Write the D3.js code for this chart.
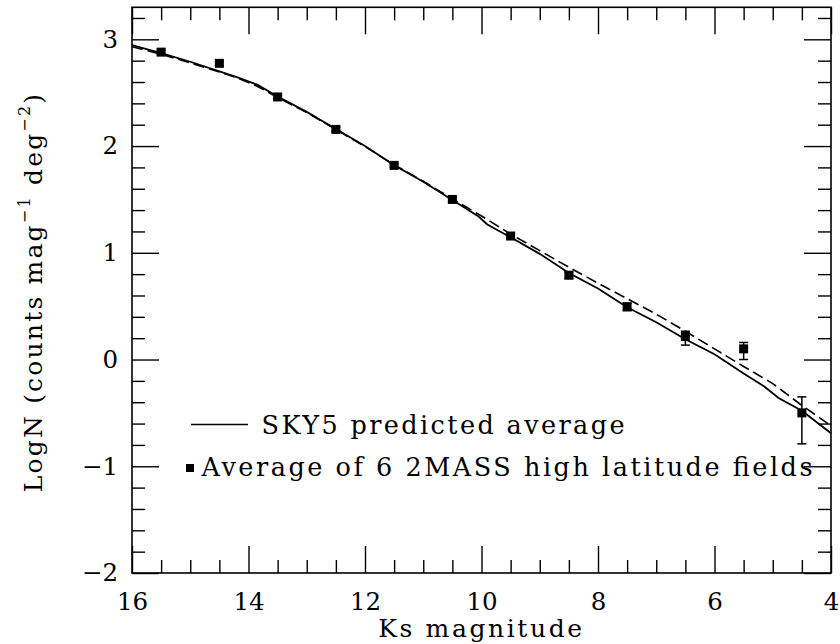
<!DOCTYPE html>
<html>
<head>
<meta charset="utf-8">
<script src="https://cdn.jsdelivr.net/npm/d3@7"></script>
<style>
  html, body { margin: 0; padding: 0; background: #fff; }
  svg { display: block; }
  text { font-family: "DejaVu Serif", "Liberation Serif", serif; fill: #000; }
</style>
</head>
<body>
<svg id="chart" width="840" height="644"></svg>
<script>
// Observed counts: averages of six 2MASS high-latitude fields
const magnitudes = [15.5, 14.5, 13.5, 12.5, 11.5, 10.5, 9.5, 8.5, 7.5, 6.5, 5.5, 4.5];
const logCounts  = [2.88, 2.775, 2.46, 2.156, 1.819, 1.50, 1.157, 0.79, 0.494, 0.215, 0.10, -0.50];
const errUp      = [0.02, 0.02, 0.02, 0.02, 0.015, 0.02, 0.025, 0.03, 0.035, 0.05, 0.06, 0.15];
const errDown    = [0.02, 0.02, 0.02, 0.02, 0.015, 0.02, 0.025, 0.03, 0.035, 0.08, 0.10, 0.29];

// SKY5 predicted average (solid)
const skyMag  = [16, 15.5, 15, 14.5, 14.2, 13.85, 13.5, 13, 12.5, 12, 11.5, 11, 10.5, 10.05, 9.9, 9.5, 9, 8.5, 8, 7.5, 7, 6.5, 6, 5.5, 5.15, 4.9, 4.5, 4];
const skyLogN = [2.945, 2.87, 2.79, 2.70, 2.645, 2.575, 2.465, 2.32, 2.16, 2.0, 1.82, 1.665, 1.495, 1.34, 1.265, 1.145, 0.99, 0.81, 0.665, 0.49, 0.35, 0.19, 0.05, -0.13, -0.25, -0.36, -0.48, -0.69];

// Comparison model (dashed)
const altMag  = [16, 15.5, 15, 14.5, 14.2, 13.85, 13.5, 13, 12.5, 12, 11.5, 11, 10.5, 10, 9.5, 9, 8.5, 8, 7.5, 7, 6.5, 6, 5.5, 5, 4.5, 4];
const altLogN = [2.93, 2.86, 2.78, 2.695, 2.64, 2.56, 2.455, 2.315, 2.155, 1.995, 1.825, 1.67, 1.505, 1.345, 1.175, 1.02, 0.865, 0.715, 0.57, 0.425, 0.265, 0.10, -0.065, -0.225, -0.43, -0.62];

// Axis ticks
const xMajor = [16, 14, 12, 10, 8, 6, 4];
const yMajor = [-2, -1, 0, 1, 2, 3];

const legendLabels = ["SKY5 predicted average", "Average of 6 2MASS high latitude fields"];

const svg = d3.select("#chart");
const plotLeft = 132, plotRight = 831, plotTop = 7.3, plotBottom = 573;

const x = d3.scaleLinear().domain([16, 4]).range([plotLeft, plotRight]);
const y = d3.scaleLinear().domain([-2, 3.3]).range([plotBottom, plotTop]);

const xMinor = d3.range(16, 3.99, -0.5).filter(v => !xMajor.includes(v));
const yMinor = d3.range(-2, 3.31, 0.2).map(v => +v.toFixed(1)).filter(v => !yMajor.includes(v));

const fmt = v => (v < 0 ? "\u2212" : "") + Math.abs(v);
const majorLen = 27, minorLen = 13;

function styleAxis(g) {
  g.select(".domain").remove();
  g.selectAll("line").attr("stroke", "#000").attr("stroke-width", 1.4);
  g.selectAll("text").attr("font-size", 24.5).attr("font-family", "DejaVu Serif, serif").attr("fill", "#000");
}

// Bottom axis
svg.append("g").attr("transform", `translate(0,${plotBottom})`)
  .call(d3.axisBottom(x).tickValues(xMajor).tickFormat(fmt).tickSize(-majorLen).tickPadding(20))
  .call(styleAxis);
svg.append("g").attr("transform", `translate(0,${plotBottom})`)
  .call(d3.axisBottom(x).tickValues(xMinor).tickFormat("").tickSize(-minorLen))
  .call(styleAxis);
// Top axis
svg.append("g").attr("transform", `translate(0,${plotTop})`)
  .call(d3.axisTop(x).tickValues(xMajor).tickFormat("").tickSize(-majorLen))
  .call(styleAxis);
svg.append("g").attr("transform", `translate(0,${plotTop})`)
  .call(d3.axisTop(x).tickValues(xMinor).tickFormat("").tickSize(-minorLen))
  .call(styleAxis);
// Left axis
svg.append("g").attr("transform", `translate(${plotLeft},0)`)
  .call(d3.axisLeft(y).tickValues(yMajor).tickFormat(fmt).tickSize(-majorLen).tickPadding(14))
  .call(styleAxis);
svg.append("g").attr("transform", `translate(${plotLeft},0)`)
  .call(d3.axisLeft(y).tickValues(yMinor).tickFormat("").tickSize(-minorLen))
  .call(styleAxis);
// Right axis
svg.append("g").attr("transform", `translate(${plotRight},0)`)
  .call(d3.axisRight(y).tickValues(yMajor).tickFormat("").tickSize(-majorLen))
  .call(styleAxis);
svg.append("g").attr("transform", `translate(${plotRight},0)`)
  .call(d3.axisRight(y).tickValues(yMinor).tickFormat("").tickSize(-minorLen))
  .call(styleAxis);

// Frame
svg.append("rect")
  .attr("x", plotLeft).attr("y", plotTop)
  .attr("width", plotRight - plotLeft).attr("height", plotBottom - plotTop)
  .attr("fill", "none").attr("stroke", "#000").attr("stroke-width", 1.6);

// Curves
svg.append("clipPath").attr("id", "plot-clip")
  .append("rect").attr("x", plotLeft).attr("y", plotTop)
  .attr("width", plotRight - plotLeft).attr("height", plotBottom - plotTop);

const line = d3.line().x(d => x(d[0])).y(d => y(d[1]));
const plot = svg.append("g").attr("clip-path", "url(#plot-clip)");

plot.append("path")
  .datum(altMag.map((m, i) => [m, altLogN[i]]))
  .attr("d", line).attr("fill", "none").attr("stroke", "#000")
  .attr("stroke-width", 1.6).attr("stroke-dasharray", "11,5");

plot.append("path")
  .datum(skyMag.map((m, i) => [m, skyLogN[i]]))
  .attr("d", line).attr("fill", "none").attr("stroke", "#000")
  .attr("stroke-width", 1.8);

// Data points with error bars
const pts = magnitudes.map((m, i) => ({ m, v: logCounts[i], up: errUp[i], dn: errDown[i] }));
const capHalf = 4.5, sq = 9;
const pg = plot.append("g").attr("stroke", "#000").attr("stroke-width", 1.5);
pg.selectAll("line.bar").data(pts).join("line").attr("class", "bar")
  .attr("x1", d => x(d.m)).attr("x2", d => x(d.m))
  .attr("y1", d => y(d.v + d.up)).attr("y2", d => y(d.v - d.dn));
pg.selectAll("line.capT").data(pts).join("line").attr("class", "capT")
  .attr("x1", d => x(d.m) - capHalf).attr("x2", d => x(d.m) + capHalf)
  .attr("y1", d => y(d.v + d.up)).attr("y2", d => y(d.v + d.up));
pg.selectAll("line.capB").data(pts).join("line").attr("class", "capB")
  .attr("x1", d => x(d.m) - capHalf).attr("x2", d => x(d.m) + capHalf)
  .attr("y1", d => y(d.v - d.dn)).attr("y2", d => y(d.v - d.dn));
plot.append("g").selectAll("rect").data(pts).join("rect")
  .attr("x", d => x(d.m) - sq / 2).attr("y", d => y(d.v) - sq / 2)
  .attr("width", sq).attr("height", sq).attr("fill", "#000");

// Legend
const lg = svg.append("g");
lg.append("line").attr("x1", 191).attr("x2", 248).attr("y1", 424.5).attr("y2", 424.5)
  .attr("stroke", "#000").attr("stroke-width", 1.6);
lg.append("text").attr("x", 261.5).attr("y", 434).attr("font-size", 25.5)
  .attr("textLength", 363).attr("lengthAdjust", "spacing").text(legendLabels[0]);
lg.append("rect").attr("x", 186).attr("y", 464).attr("width", 8).attr("height", 8).attr("fill", "#000");
lg.append("text").attr("x", 201.5).attr("y", 476).attr("font-size", 25.5)
  .attr("textLength", 611).attr("lengthAdjust", "spacing").text(legendLabels[1]);

// Axis titles
svg.append("text").attr("x", (plotLeft + plotRight) / 2).attr("y", 637)
  .attr("text-anchor", "middle").attr("font-size", 25).attr("letter-spacing", 2.6)
  .text("Ks magnitude");

const yt = svg.append("text")
  .attr("transform", `translate(42,292) rotate(-90)`)
  .attr("text-anchor", "middle").attr("font-size", 25).attr("letter-spacing", 2.2);
yt.append("tspan").text("LogN (counts mag");
yt.append("tspan").attr("font-size", 16).attr("dy", -12).text("\u22121");
yt.append("tspan").attr("dy", 12).text(" deg");
yt.append("tspan").attr("font-size", 16).attr("dy", -12).text("\u22122");
yt.append("tspan").attr("dy", 12).text(")");
</script>
</body>
</html>
